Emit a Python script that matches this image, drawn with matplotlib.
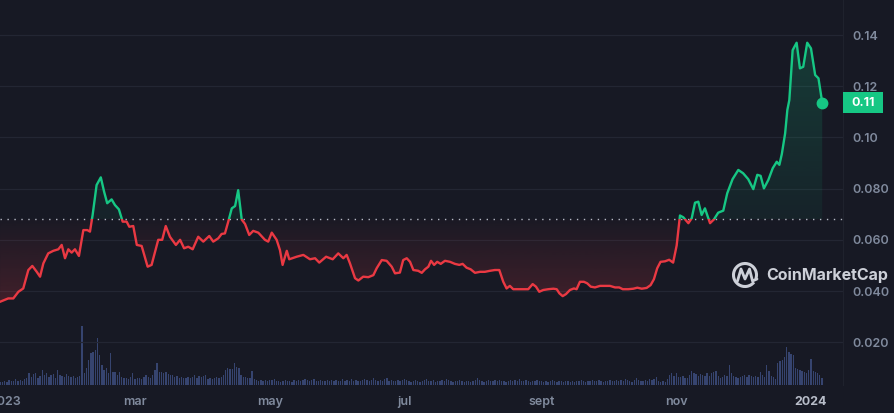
import numpy as np
import matplotlib.pyplot as plt
import matplotlib.colors as mcolors
from matplotlib.path import Path
from matplotlib.patches import Rectangle, Arc
from matplotlib.transforms import blended_transform_factory

# price, days counted from 2023-01-01
days_q1 = [-2.1, 1.6, 3.9, 6.2, 8.4, 10.7, 12.5, 14.5, 16.0, 17.5, 19.7, 22.0, 24.3, 25.8, 27.3, 28.8,
           30.3, 31.8, 33.6, 35.6, 37.4, 38.6, 39.8, 41.6, 43.5, 45.0, 46.4, 48.4, 49.9, 51.7, 53.4, 55.2,
           56.4, 58.2, 59.8, 62.0, 64.7, 66.5, 69.5, 71.3, 72.9, 74.8, 77.5, 79.4, 81.2, 83.1, 85.1, 87.6]
price_q1 = [0.0358, 0.0371, 0.0371, 0.0397, 0.0410, 0.0482, 0.0498, 0.0475, 0.0456, 0.0508, 0.0547, 0.0557,
            0.0563, 0.0580, 0.0528, 0.0563, 0.0550, 0.0563, 0.0537, 0.0638, 0.0638, 0.0632, 0.0697, 0.0814,
            0.0844, 0.0788, 0.0743, 0.0758, 0.0736, 0.0719, 0.0671, 0.0671, 0.0651, 0.0654, 0.0580, 0.0576,
            0.0495, 0.0502, 0.0600, 0.0600, 0.0654, 0.0612, 0.0580, 0.0600, 0.0567, 0.0573, 0.0563, 0.0612]
days_q2 = [89.9, 92.6, 94.4, 96.7, 98.2, 99.7, 101.2, 102.8, 104.3, 105.7, 107.3, 108.8, 110.7, 112.5,
           114.8, 117.8, 119.3, 120.9, 123.1, 124.6, 125.8, 127.7, 128.8, 132.2, 135.2, 138.2, 140.5,
           142.4, 145.5, 148.5, 151.0, 153.3, 154.8, 156.3, 158.6, 160.1, 162.3, 164.6, 166.9, 168.4,
           170.7, 172.9, 175.2, 176.7]
price_q2 = [0.0593, 0.0615, 0.0593, 0.0606, 0.0623, 0.0625, 0.0671, 0.0723, 0.0732, 0.0794, 0.0679, 0.0662,
            0.0619, 0.0635, 0.0628, 0.0600, 0.0593, 0.0628, 0.0600, 0.0560, 0.0502, 0.0557, 0.0524, 0.0534,
            0.0541, 0.0524, 0.0528, 0.0511, 0.0534, 0.0524, 0.0547, 0.0528, 0.0541, 0.0508, 0.0450, 0.0441,
            0.0456, 0.0454, 0.0462, 0.0489, 0.0521, 0.0518, 0.0495, 0.0469]
days_q3 = [178.9, 180.4, 182.0, 183.5, 185.0, 187.2, 188.8, 190.3, 191.8, 193.0, 194.4, 195.8, 197.4,
           199.3, 201.6, 203.8, 205.8, 207.3, 209.1, 210.9, 212.9, 215.2, 217.4, 219.7, 221.9, 223.9,
           225.7, 227.2, 228.7, 230.2, 232.5, 234.8, 237.0, 239.0, 240.5, 242.0, 243.8, 246.1, 248.4,
           249.9, 251.1, 252.6, 254.1, 255.9, 257.7, 258.9, 260.4, 262.2, 263.7, 265.3, 267.2, 269.5,
           271.8, 274.0, 276.3, 278.2, 279.8, 282.3, 284.6, 286.4, 288.4, 290.6, 292.4, 293.9, 295.4,
           296.9, 298.9, 300.8, 302.6]
price_q3 = [0.0472, 0.0521, 0.0528, 0.0514, 0.0482, 0.0479, 0.0471, 0.0485, 0.0495, 0.0518, 0.0502, 0.0514,
            0.0506, 0.0518, 0.0514, 0.0506, 0.0502, 0.0506, 0.0491, 0.0485, 0.0471, 0.0475, 0.0475, 0.0479,
            0.0482, 0.0482, 0.0436, 0.0410, 0.0420, 0.0407, 0.0407, 0.0407, 0.0407, 0.0427, 0.0417, 0.0397,
            0.0404, 0.0407, 0.0409, 0.0407, 0.0391, 0.0380, 0.0388, 0.0404, 0.0410, 0.0407, 0.0436, 0.0436,
            0.0430, 0.0417, 0.0414, 0.0420, 0.0420, 0.0420, 0.0414, 0.0414, 0.0407, 0.0407, 0.0409, 0.0413,
            0.0409, 0.0412, 0.0423, 0.0446, 0.0489, 0.0514, 0.0516, 0.0522, 0.0511]
days_q4 = [304.2, 305.7, 307.2, 309.5, 311.0, 312.5, 314.0, 315.5, 317.0, 319.3, 321.1, 323.0, 325.3,
           327.1, 329.5, 332.1, 334.3, 336.6, 338.9, 340.7, 342.2, 343.7, 345.7, 347.7, 349.5, 350.7,
           351.8, 353.3, 354.3, 355.2, 356.7, 358.5, 360.0, 361.5, 363.3, 365.0, 366.9, 368.4, 370.1]
price_q4 = [0.0578, 0.0695, 0.0688, 0.0665, 0.0684, 0.0745, 0.0749, 0.0697, 0.0723, 0.0665, 0.0680, 0.0706,
            0.0714, 0.0782, 0.0837, 0.0873, 0.0860, 0.0837, 0.0798, 0.0854, 0.0850, 0.0801, 0.0834, 0.0880,
            0.0905, 0.0893, 0.0935, 0.1016, 0.1107, 0.1146, 0.1341, 0.1370, 0.1270, 0.1276, 0.1370, 0.1348,
            0.1244, 0.1231, 0.1136]
baseline = 0.068

# daily volume (relative units), one bar per day starting 2022-12-30
vol_a = [3, 3, 4, 3, 5, 4, 4, 6, 4, 5, 4, 6, 7]
vol_b = [12, 8, 11, 12, 7, 9, 15, 10, 12, 8, 10, 11, 7, 15, 10, 9, 8, 11, 9, 8, 9, 7, 8, 9]
vol_c = [59, 12, 17, 25, 32, 33, 35, 47, 30, 20, 15, 17, 12, 32, 13, 13, 10, 13, 8, 7,
         7, 6, 8, 12, 6, 7, 7, 6, 8, 10, 8, 7, 10, 15, 22, 13, 13, 12, 13, 11,
         10, 10, 8, 9, 7, 8, 7, 7, 8, 7, 8, 10, 7, 9, 8, 9, 10, 6, 7, 6,
         7, 8, 7, 8, 10, 15, 17, 16, 16, 22, 18, 17, 10, 8, 8, 7, 7, 14, 6]
vol_d = [5, 4, 5, 4, 5, 4, 5, 5, 6, 4, 4, 3, 4, 5, 4, 4, 3, 5, 4, 5, 4, 5, 6, 5, 4, 5, 6, 4, 4, 5,
         4, 4, 5, 4, 5, 4, 5, 4, 4, 6, 4, 5, 4, 6, 4, 5, 4, 4, 5, 6, 5, 4, 5, 7, 5, 4, 5, 4, 6, 7,
         4, 5, 4, 4, 5, 4, 5, 6, 5]
vol_e = [4, 3, 4, 5, 4, 3, 4, 5, 6, 4, 4, 5, 3, 4, 4, 5, 4, 6, 5, 4, 3, 4, 4, 5, 4, 3, 4, 4, 3, 4,
         5, 7, 5, 4, 3, 4, 5, 4, 4, 5, 4, 5, 4, 4, 3, 4, 5, 4, 5, 4, 6, 4, 4, 5, 4, 3, 4, 4, 5, 4,
         4, 3, 4, 3, 4, 5, 4, 3, 4, 4, 3, 4, 4, 3, 4, 3, 4, 4, 5, 4, 3, 4, 4, 5, 4, 4, 5, 4, 3, 4,
         4, 5, 4, 4, 5, 4, 5, 4, 6, 5, 4, 3, 5, 7, 5, 4, 4, 5, 4, 6, 5]
vol_f = [6, 8, 4, 3, 4, 3, 6, 10, 12, 9, 12, 8, 8, 9, 7, 7, 10, 14, 12, 11, 9, 11, 10, 9, 12, 9,
         12, 13, 14, 9, 7, 8, 10, 9, 20, 12, 9, 8, 7, 8, 9, 10, 8, 10, 9, 8, 9, 8, 13, 10, 8, 20,
         14, 9, 8, 6, 22, 24, 25, 28, 38, 33, 31, 30, 17, 16, 15, 14, 13, 12, 15, 26, 14, 13, 12, 10, 7]

tick_days = [0, 59, 120, 181, 243, 304, 365]
tick_labels = ['2023', 'mar', 'may', 'jul', 'sept', 'nov', '2024']
ytick_vals = [0.02, 0.04, 0.06, 0.08, 0.10, 0.12, 0.14]
ytick_labels = ['0.020', '0.040', '0.060', '0.080', '0.10', '0.12', '0.14']

bg = '#171924'
grid = '#232633'
red = '#ea3943'
green = '#16c784'
txt = '#808a9d'

plt.rcParams['font.family'] = ['Inter', 'DejaVu Sans']


def gradient_fill(ax, x, y, base, above, color, a_near, a_far):
  mask = y >= base if above else y <= base
  poly = ax.fill_between(x, y, base, where=mask, interpolate=True,
                         facecolor='none', edgecolor='none')
  path = Path.make_compound_path(*poly.get_paths())
  lo, hi = (base, y.max()) if above else (y.min(), base)
  grad = np.zeros((256, 1, 4))
  grad[..., :3] = mcolors.to_rgb(color)
  grad[:, 0, 3] = np.linspace(a_near, a_far, 256) if above else np.linspace(a_far, a_near, 256)
  im = ax.imshow(grad, aspect='auto', origin='lower', zorder=1,
                 extent=[x.min(), x.max(), lo, hi])
  im.set_clip_path(path, transform=ax.transData)


def run():
  days = np.array(days_q1 + days_q2 + days_q3 + days_q4)
  price = np.array(price_q1 + price_q2 + price_q3 + price_q4)
  vol = np.array(vol_a + vol_b + vol_c + vol_d + vol_e + vol_f)
  vol_days = np.arange(-2, -2 + len(vol))

  fig = plt.figure(figsize=(8.95, 4.13), dpi=100, facecolor=bg)
  ax = fig.add_axes([0, 27.7 / 413, 843 / 895, 385.3 / 413])
  ax2 = ax.twinx()
  ax.set_zorder(ax2.get_zorder() + 1)
  ax.patch.set_visible(False)
  ax2.set_facecolor(bg)

  xmin, xmax = -2.13, 379.5
  ymin, ymax = 0.00316, 0.1537

  # volume
  ax2.bar(vol_days, vol, width=0.6, color='#36446f', linewidth=0)
  ax2.set_ylim(0, 385.3)
  ax2.set_yticks([])

  # grid
  for v in ytick_vals:
    ax.axhline(v, color=grid, lw=0.9, zorder=0)

  gradient_fill(ax, days, price, baseline, False, red, 0.02, 0.2)
  gradient_fill(ax, days, price, baseline, True, green, 0.06, 0.2)

  up_clip = Rectangle((xmin - 10, baseline), xmax - xmin + 20, 1, transform=ax.transData)
  dn_clip = Rectangle((xmin - 10, -1), xmax - xmin + 20, 1 + baseline, transform=ax.transData)
  l_up, = ax.plot(days, price, color=green, lw=1.7, zorder=3, solid_joinstyle='round')
  l_dn, = ax.plot(days, price, color=red, lw=1.7, zorder=3, solid_joinstyle='round')
  l_up.set_clip_path(up_clip)
  l_dn.set_clip_path(dn_clip)

  ax.axhline(baseline, color='#b4b8c4', lw=1, ls=(0, (1, 4)), zorder=2)
  ax.plot(days[-1], price[-1], 'o', ms=7.5, color=green, zorder=4)

  ax.set_xlim(xmin, xmax)
  ax2.set_xlim(xmin, xmax)
  ax.set_ylim(ymin, ymax)

  for s in ['top', 'left', 'bottom']:
    ax.spines[s].set_visible(False)
    ax2.spines[s].set_visible(False)
  ax.spines['right'].set_color('#1f222d')
  ax2.spines['right'].set_visible(False)

  ax.yaxis.tick_right()
  ax.set_yticks(ytick_vals)
  ax.set_yticklabels(ytick_labels)
  ax.tick_params(axis='y', length=0, pad=7, labelsize=9, labelcolor=txt)
  ax.set_xticks(tick_days)
  ax.set_xticklabels(tick_labels)
  ax.tick_params(axis='x', length=0, pad=8, labelsize=9, labelcolor=txt)
  for lab in ax.get_xticklabels() + ax.get_yticklabels():
    lab.set_fontweight('semibold')
  ax.get_xticklabels()[-1].set_color('#b8bdc9')
  ax.get_xticklabels()[-1].set_fontweight('bold')

  # current price tag
  tr = blended_transform_factory(ax.transAxes, ax.transData)
  ax.add_patch(Rectangle((1.0, price[-1] - 0.0041), 40 / 843, 0.0082, transform=tr,
                         facecolor=green, edgecolor='none', clip_on=False, zorder=5))
  ax.text(1.0 + 20 / 843, price[-1], '%.2f' % price[-1], transform=tr, ha='center', va='center',
          color='white', fontsize=9, fontweight='bold', zorder=6)

  # watermark
  fig.text(766 / 895, 1 - 275 / 413, 'CoinMarketCap', ha='left', va='center',
           color='#cdd0d8', fontsize=11.5, fontweight='bold')
  fig.add_artist(Arc((745 / 895, 1 - 275 / 413), 23 / 895, 23 / 413, theta1=-40, theta2=300,
                     transform=fig.transFigure, color='#cdd0d8', lw=2.2))
  mx = np.array([737.5, 741, 745, 749.5, 752.5, 757]) / 895
  my = 1 - np.array([281, 269, 279, 269, 281, 279]) / 413
  fig.add_artist(plt.Line2D(mx, my, transform=fig.transFigure, color='#cdd0d8', lw=2,
                            solid_joinstyle='round', solid_capstyle='round'))

  fig.savefig('out.png', dpi=100, facecolor=bg)


if __name__ == '__main__':
  run()
